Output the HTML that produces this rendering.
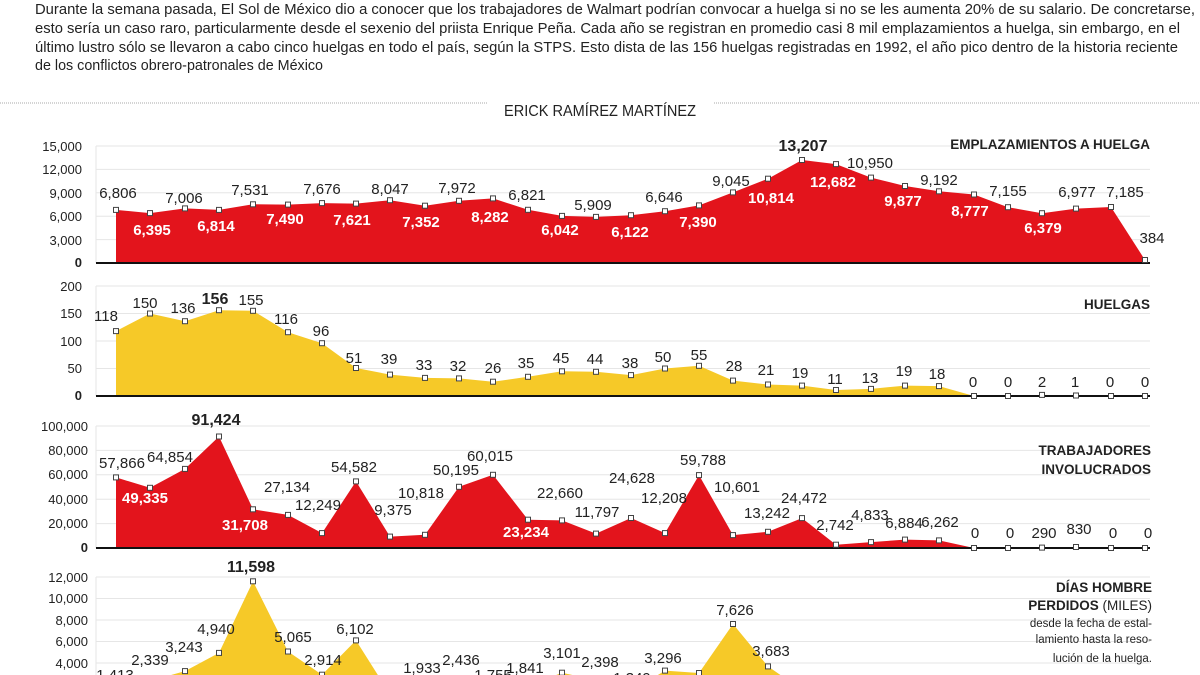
<!DOCTYPE html>
<html><head><meta charset="utf-8"><style>
html,body{margin:0;padding:0;background:#fff}
svg{display:block}
text{font-family:"Liberation Sans",sans-serif}
</style></head><body>
<svg width="1200" height="675" viewBox="0 0 1200 675" xmlns="http://www.w3.org/2000/svg">
<rect width="1200" height="675" fill="#fff"/>
<g font-size="15" fill="#222">
<text x="35" y="14" textLength="1160" lengthAdjust="spacingAndGlyphs">Durante la semana pasada, El Sol de México dio a conocer que los trabajadores de Walmart podrían convocar a huelga si no se les aumenta 20% de su salario. De concretarse,</text>
<text x="35" y="33" textLength="1145" lengthAdjust="spacingAndGlyphs">esto sería un caso raro, particularmente desde el sexenio del priista Enrique Peña. Cada año se registran en promedio casi 8 mil emplazamientos a huelga, sin embargo, en el</text>
<text x="35" y="52" textLength="1143" lengthAdjust="spacingAndGlyphs">último lustro sólo se llevaron a cabo cinco huelgas en todo el país, según la STPS. Esto dista de las 156 huelgas registradas en 1992, el año pico dentro de la historia reciente</text>
<text x="35" y="70" textLength="288" lengthAdjust="spacingAndGlyphs">de los conflictos obrero-patronales de México</text>
</g>
<line x1="0" y1="103" x2="488" y2="103" stroke="#aaa" stroke-width="1" stroke-dasharray="1,1"/>
<line x1="714" y1="103" x2="1200" y2="103" stroke="#aaa" stroke-width="1" stroke-dasharray="1,1"/>
<text x="600" y="116" font-size="16" text-anchor="middle" fill="#222" textLength="192" lengthAdjust="spacingAndGlyphs">ERICK RAMÍREZ MARTÍNEZ</text>

<g stroke="#e6e6e6" stroke-width="1">
<line x1="96" y1="146" x2="1150" y2="146"/><line x1="96" y1="169.4" x2="1150" y2="169.4"/><line x1="96" y1="192.8" x2="1150" y2="192.8"/><line x1="96" y1="216.2" x2="1150" y2="216.2"/><line x1="96" y1="239.6" x2="1150" y2="239.6"/>
<line x1="96" y1="286" x2="1150" y2="286"/><line x1="96" y1="313.5" x2="1150" y2="313.5"/><line x1="96" y1="341" x2="1150" y2="341"/><line x1="96" y1="368.5" x2="1150" y2="368.5"/>
<line x1="96" y1="426" x2="1150" y2="426"/><line x1="96" y1="450.4" x2="1150" y2="450.4"/><line x1="96" y1="474.8" x2="1150" y2="474.8"/><line x1="96" y1="499.2" x2="1150" y2="499.2"/><line x1="96" y1="523.6" x2="1150" y2="523.6"/>
<line x1="96" y1="577" x2="1150" y2="577"/><line x1="96" y1="598.5" x2="1150" y2="598.5"/><line x1="96" y1="620" x2="1150" y2="620"/><line x1="96" y1="641.5" x2="1150" y2="641.5"/><line x1="96" y1="663" x2="1150" y2="663"/>
<line x1="96" y1="146" x2="96" y2="263"/><line x1="96" y1="286" x2="96" y2="396"/><line x1="96" y1="426" x2="96" y2="548"/><line x1="96" y1="577" x2="96" y2="675"/>
</g>

<g font-size="13" fill="#222" text-anchor="end">
<text x="82" y="151">15,000</text><text x="82" y="174">12,000</text><text x="82" y="198">9,000</text><text x="82" y="221">6,000</text><text x="82" y="245">3,000</text><text x="82" y="267" font-weight="bold">0</text>
<text x="82" y="291">200</text><text x="82" y="318">150</text><text x="82" y="346">100</text><text x="82" y="373">50</text><text x="82" y="400" font-weight="bold">0</text>
<text x="88" y="431">100,000</text><text x="88" y="455">80,000</text><text x="88" y="479">60,000</text><text x="88" y="504">40,000</text><text x="88" y="528">20,000</text><text x="88" y="552" font-weight="bold">0</text>
<text x="88" y="582">12,000</text><text x="88" y="603">10,000</text><text x="88" y="625">8,000</text><text x="88" y="646">6,000</text><text x="88" y="668">4,000</text>
</g>

<polygon fill="#e3141c" points="116,263 116,209.9 150,213.1 185,208.4 219,209.9 253,204.3 288,204.6 322,203.1 356,203.6 390,200.2 425,205.7 459,200.8 493,198.4 528,209.8 562,215.9 596,216.9 631,215.2 665,211.2 699,205.4 733,192.4 768,178.7 802,160 836,164.1 871,177.6 905,186 939,191.3 974,194.5 1008,207.2 1042,213.2 1076,208.6 1111,207 1145,260 1145,263"/>
<line x1="96" y1="263" x2="1150" y2="263" stroke="#111" stroke-width="2"/>
<g fill="#fff" stroke="#444" stroke-width="1">
<rect x="113.5" y="207.4" width="5" height="5"/><rect x="147.5" y="210.6" width="5" height="5"/><rect x="182.5" y="205.9" width="5" height="5"/><rect x="216.5" y="207.4" width="5" height="5"/><rect x="250.5" y="201.8" width="5" height="5"/><rect x="285.5" y="202.1" width="5" height="5"/><rect x="319.5" y="200.6" width="5" height="5"/><rect x="353.5" y="201.1" width="5" height="5"/><rect x="387.5" y="197.7" width="5" height="5"/><rect x="422.5" y="203.2" width="5" height="5"/><rect x="456.5" y="198.3" width="5" height="5"/><rect x="490.5" y="195.9" width="5" height="5"/><rect x="525.5" y="207.3" width="5" height="5"/><rect x="559.5" y="213.4" width="5" height="5"/><rect x="593.5" y="214.4" width="5" height="5"/><rect x="628.5" y="212.7" width="5" height="5"/><rect x="662.5" y="208.7" width="5" height="5"/><rect x="696.5" y="202.9" width="5" height="5"/><rect x="730.5" y="189.9" width="5" height="5"/><rect x="765.5" y="176.2" width="5" height="5"/><rect x="799.5" y="157.5" width="5" height="5"/><rect x="833.5" y="161.6" width="5" height="5"/><rect x="868.5" y="175.1" width="5" height="5"/><rect x="902.5" y="183.5" width="5" height="5"/><rect x="936.5" y="188.8" width="5" height="5"/><rect x="971.5" y="192" width="5" height="5"/><rect x="1005.5" y="204.7" width="5" height="5"/><rect x="1039.5" y="210.7" width="5" height="5"/><rect x="1073.5" y="206.1" width="5" height="5"/><rect x="1108.5" y="204.5" width="5" height="5"/><rect x="1142.5" y="257.5" width="5" height="5"/>
</g>
<g font-size="15" text-anchor="middle" fill="#222">
<text x="118" y="198">6,806</text><text x="184" y="203">7,006</text><text x="250" y="195">7,531</text><text x="322" y="194">7,676</text><text x="390" y="194">8,047</text><text x="457" y="193">7,972</text><text x="527" y="200">6,821</text><text x="593" y="210">5,909</text><text x="664" y="202">6,646</text><text x="731" y="186">9,045</text><text x="870" y="168">10,950</text><text x="939" y="185">9,192</text><text x="1008" y="196">7,155</text><text x="1077" y="197">6,977</text><text x="1125" y="197">7,185</text><text x="1152" y="243">384</text>
<text x="803" y="151" font-weight="bold" font-size="16">13,207</text>
</g>
<g font-size="15" text-anchor="middle" fill="#fff" font-weight="bold">
<text x="152" y="235">6,395</text><text x="216" y="231">6,814</text><text x="285" y="224">7,490</text><text x="352" y="225">7,621</text><text x="421" y="227">7,352</text><text x="490" y="222">8,282</text><text x="560" y="235">6,042</text><text x="630" y="237">6,122</text><text x="698" y="227">7,390</text><text x="771" y="203">10,814</text><text x="833" y="187">12,682</text><text x="903" y="206">9,877</text><text x="970" y="216">8,777</text><text x="1043" y="233">6,379</text>
</g>
<text x="1150" y="149" font-size="13.5" font-weight="bold" text-anchor="end" fill="#222">EMPLAZAMIENTOS A HUELGA</text>

<polygon fill="#f6c928" points="116,396 116,331.1 150,313.5 185,321.2 219,310.2 253,310.8 288,332.2 322,343.2 356,368 390,374.6 425,377.9 459,378.4 493,381.7 528,376.8 562,371.3 596,371.8 631,375.1 665,368.5 699,365.8 733,380.6 768,384.5 802,385.6 836,390 871,388.9 905,385.6 939,386.1 974,396 1008,396 1042,394.9 1076,395.5 1111,396 1145,396"/>
<line x1="96" y1="396" x2="1150" y2="396" stroke="#111" stroke-width="2"/>
<g fill="#fff" stroke="#444" stroke-width="1">
<rect x="113.5" y="328.6" width="5" height="5"/><rect x="147.5" y="311" width="5" height="5"/><rect x="182.5" y="318.7" width="5" height="5"/><rect x="216.5" y="307.7" width="5" height="5"/><rect x="250.5" y="308.3" width="5" height="5"/><rect x="285.5" y="329.7" width="5" height="5"/><rect x="319.5" y="340.7" width="5" height="5"/><rect x="353.5" y="365.5" width="5" height="5"/><rect x="387.5" y="372.1" width="5" height="5"/><rect x="422.5" y="375.4" width="5" height="5"/><rect x="456.5" y="375.9" width="5" height="5"/><rect x="490.5" y="379.2" width="5" height="5"/><rect x="525.5" y="374.3" width="5" height="5"/><rect x="559.5" y="368.8" width="5" height="5"/><rect x="593.5" y="369.3" width="5" height="5"/><rect x="628.5" y="372.6" width="5" height="5"/><rect x="662.5" y="366" width="5" height="5"/><rect x="696.5" y="363.3" width="5" height="5"/><rect x="730.5" y="378.1" width="5" height="5"/><rect x="765.5" y="382" width="5" height="5"/><rect x="799.5" y="383.1" width="5" height="5"/><rect x="833.5" y="387.5" width="5" height="5"/><rect x="868.5" y="386.4" width="5" height="5"/><rect x="902.5" y="383.1" width="5" height="5"/><rect x="936.5" y="383.6" width="5" height="5"/><rect x="971.5" y="393.5" width="5" height="5"/><rect x="1005.5" y="393.5" width="5" height="5"/><rect x="1039.5" y="392.4" width="5" height="5"/><rect x="1073.5" y="393" width="5" height="5"/><rect x="1108.5" y="393.5" width="5" height="5"/><rect x="1142.5" y="393.5" width="5" height="5"/>
</g>
<g font-size="15" text-anchor="middle" fill="#222">
<text x="106" y="321">118</text><text x="145" y="308">150</text><text x="183" y="313">136</text><text x="251" y="305">155</text><text x="286" y="324">116</text><text x="321" y="336">96</text><text x="354" y="363">51</text><text x="389" y="364">39</text><text x="424" y="370">33</text><text x="458" y="371">32</text><text x="493" y="373">26</text><text x="526" y="368">35</text><text x="561" y="363">45</text><text x="595" y="364">44</text><text x="630" y="368">38</text><text x="663" y="362">50</text><text x="699" y="360">55</text><text x="734" y="371">28</text><text x="766" y="375">21</text><text x="800" y="378">19</text><text x="835" y="384">11</text><text x="870" y="383">13</text><text x="904" y="376">19</text><text x="937" y="379">18</text><text x="973" y="387">0</text><text x="1008" y="387">0</text><text x="1042" y="387">2</text><text x="1075" y="387">1</text><text x="1110" y="387">0</text><text x="1145" y="387">0</text>
<text x="215" y="304" font-weight="bold" font-size="16">156</text>
</g>
<text x="1150" y="309" font-size="13.5" font-weight="bold" text-anchor="end" fill="#222">HUELGAS</text>

<polygon fill="#e3141c" points="116,548 116,477.4 150,487.8 185,468.9 219,436.5 253,509.3 288,514.9 322,533.1 356,481.4 390,536.6 425,534.8 459,486.8 493,474.8 528,519.7 562,520.4 596,533.6 631,518 665,533.1 699,475.1 733,535.1 768,531.8 802,518.1 836,544.7 871,542.1 905,539.6 939,540.4 974,548 1008,548 1042,547.6 1076,547 1111,548 1145,548"/>
<line x1="96" y1="548" x2="1150" y2="548" stroke="#111" stroke-width="2"/>
<g fill="#fff" stroke="#444" stroke-width="1">
<rect x="113.5" y="474.9" width="5" height="5"/><rect x="147.5" y="485.3" width="5" height="5"/><rect x="182.5" y="466.4" width="5" height="5"/><rect x="216.5" y="434" width="5" height="5"/><rect x="250.5" y="506.8" width="5" height="5"/><rect x="285.5" y="512.4" width="5" height="5"/><rect x="319.5" y="530.6" width="5" height="5"/><rect x="353.5" y="478.9" width="5" height="5"/><rect x="387.5" y="534.1" width="5" height="5"/><rect x="422.5" y="532.3" width="5" height="5"/><rect x="456.5" y="484.3" width="5" height="5"/><rect x="490.5" y="472.3" width="5" height="5"/><rect x="525.5" y="517.2" width="5" height="5"/><rect x="559.5" y="517.9" width="5" height="5"/><rect x="593.5" y="531.1" width="5" height="5"/><rect x="628.5" y="515.5" width="5" height="5"/><rect x="662.5" y="530.6" width="5" height="5"/><rect x="696.5" y="472.6" width="5" height="5"/><rect x="730.5" y="532.6" width="5" height="5"/><rect x="765.5" y="529.3" width="5" height="5"/><rect x="799.5" y="515.6" width="5" height="5"/><rect x="833.5" y="542.2" width="5" height="5"/><rect x="868.5" y="539.6" width="5" height="5"/><rect x="902.5" y="537.1" width="5" height="5"/><rect x="936.5" y="537.9" width="5" height="5"/><rect x="971.5" y="545.5" width="5" height="5"/><rect x="1005.5" y="545.5" width="5" height="5"/><rect x="1039.5" y="545.1" width="5" height="5"/><rect x="1073.5" y="544.5" width="5" height="5"/><rect x="1108.5" y="545.5" width="5" height="5"/><rect x="1142.5" y="545.5" width="5" height="5"/>
</g>
<g font-size="15" text-anchor="middle" fill="#222">
<text x="122" y="468">57,866</text><text x="170" y="462">64,854</text><text x="287" y="492">27,134</text><text x="318" y="510">12,249</text><text x="354" y="472">54,582</text><text x="393" y="515">9,375</text><text x="421" y="498">10,818</text><text x="456" y="475">50,195</text><text x="490" y="461">60,015</text><text x="560" y="498">22,660</text><text x="597" y="517">11,797</text><text x="632" y="483">24,628</text><text x="664" y="503">12,208</text><text x="703" y="465">59,788</text><text x="737" y="492">10,601</text><text x="767" y="518">13,242</text><text x="804" y="503">24,472</text><text x="835" y="530">2,742</text><text x="870" y="520">4,833</text><text x="904" y="528">6,884</text><text x="940" y="527">6,262</text><text x="975" y="538">0</text><text x="1010" y="538">0</text><text x="1044" y="538">290</text><text x="1079" y="534">830</text><text x="1113" y="538">0</text><text x="1148" y="538">0</text>
<text x="216" y="425" font-weight="bold" font-size="16">91,424</text>
</g>
<g font-size="15" text-anchor="middle" fill="#fff" font-weight="bold">
<text x="145" y="503">49,335</text><text x="245" y="530">31,708</text><text x="526" y="537">23,234</text>
</g>
<g font-size="13.5" font-weight="bold" text-anchor="end" fill="#222">
<text x="1151" y="455">TRABAJADORES</text><text x="1151" y="474">INVOLUCRADOS</text>
</g>

<polygon fill="#f6c928" points="116,706 116,690.8 150,680.9 185,671.1 219,652.9 253,581.3 288,651.5 322,674.7 356,640.4 390,694.2 425,685.2 459,679.8 493,687.1 528,686.2 562,672.7 596,680.2 631,691.5 665,670.6 699,673 733,624 768,666.4 802,689.9 836,699.5 871,698.5 905,696.3 939,697.4 974,706 1145,706"/>
<g fill="#fff" stroke="#444" stroke-width="1">
<rect x="113.5" y="688.3" width="5" height="5"/><rect x="147.5" y="678.4" width="5" height="5"/><rect x="182.5" y="668.6" width="5" height="5"/><rect x="216.5" y="650.4" width="5" height="5"/><rect x="250.5" y="578.8" width="5" height="5"/><rect x="285.5" y="649" width="5" height="5"/><rect x="319.5" y="672.2" width="5" height="5"/><rect x="353.5" y="637.9" width="5" height="5"/><rect x="559.5" y="670.2" width="5" height="5"/><rect x="662.5" y="668.1" width="5" height="5"/><rect x="696.5" y="670.5" width="5" height="5"/><rect x="730.5" y="621.5" width="5" height="5"/><rect x="765.5" y="663.9" width="5" height="5"/>
</g>
<g font-size="15" text-anchor="middle" fill="#222">
<text x="115" y="680">1,413</text><text x="150" y="665">2,339</text><text x="184" y="652">3,243</text><text x="216" y="634">4,940</text><text x="293" y="642">5,065</text><text x="323" y="665">2,914</text><text x="355" y="634">6,102</text><text x="390" y="687">1,186</text><text x="422" y="673">1,933</text><text x="461" y="665">2,436</text><text x="493" y="680">1,755</text><text x="525" y="673">1,841</text><text x="562" y="658">3,101</text><text x="600" y="667">2,398</text><text x="632" y="683">1,349</text><text x="663" y="663">3,296</text><text x="735" y="615">7,626</text><text x="771" y="656">3,683</text>
<text x="251" y="572" font-weight="bold" font-size="16">11,598</text>
</g>
<g text-anchor="end" fill="#222">
<text x="1152" y="592" font-size="13.5" font-weight="bold">DÍAS HOMBRE</text>
<text x="1152" y="610" font-size="13.5"><tspan font-weight="bold">PERDIDOS</tspan> (MILES)</text>
<text x="1152" y="627" font-size="11.5">desde la fecha de estal-</text>
<text x="1152" y="643" font-size="11.5">lamiento hasta la reso-</text>
<text x="1152" y="662" font-size="11.5">lución de la huelga.</text>
</g>
</svg>
</body></html>
